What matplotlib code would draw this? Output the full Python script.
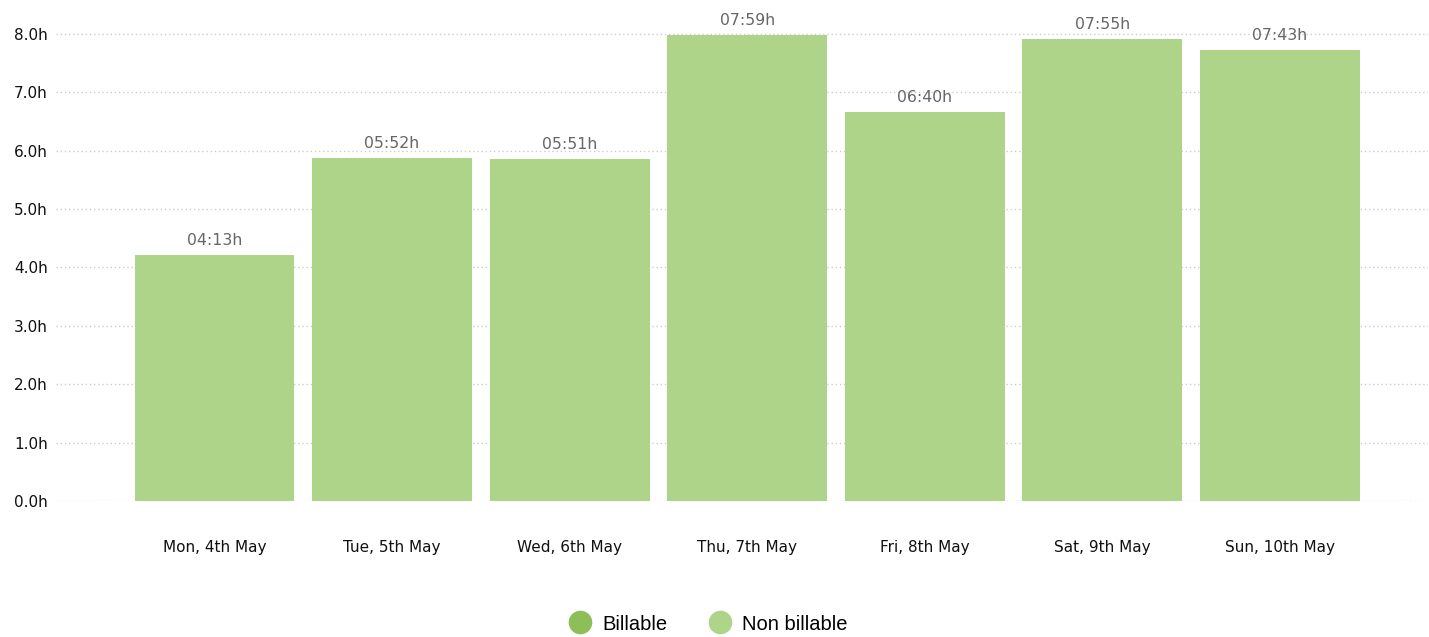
import matplotlib
matplotlib.use('Agg')
import matplotlib.pyplot as plt
from matplotlib.lines import Line2D

days = ['Mon, 4th May', 'Tue, 5th May', 'Wed, 6th May', 'Thu, 7th May',
        'Fri, 8th May', 'Sat, 9th May', 'Sun, 10th May']
labels = ['04:13h', '05:52h', '05:51h', '07:59h', '06:40h', '07:55h', '07:43h']
billable = [0, 0, 0, 0, 0, 0, 0]
non_billable = [4 + 13/60, 5 + 52/60, 5 + 51/60, 7 + 59/60, 6 + 40/60, 7 + 55/60, 7 + 43/60]
yticks = [0, 1, 2, 3, 4, 5, 6, 7, 8]

c_bill = '#8cbf58'
c_non = '#aed48a'

fig = plt.figure(figsize=(14.29, 6.37), dpi=100)
ax = fig.add_axes([56/1429, 1 - 501/637, (1428-56)/1429, 501/637])

x = range(len(days))
ax.bar(x, non_billable, width=0.9, bottom=billable, color=c_non, zorder=2)

for i, v in enumerate(non_billable):
    ax.annotate(labels[i], (i, v), xytext=(0, 5), textcoords='offset points',
                ha='center', va='bottom', fontsize=11.3, color='#666666',
                family='DejaVu Sans', zorder=3)

ax.set_xlim(-0.893, 6.834)
ax.set_ylim(0, 8.58)
ax.set_yticks(yticks)
ax.set_yticklabels(['%.1fh' % t for t in yticks], fontsize=11, color='#111111')
ax.set_xticks(list(x))
ax.set_xticklabels(days, fontsize=11, color='#111111')
ax.tick_params(axis='both', length=0)
ax.tick_params(axis='x', pad=28)
ax.yaxis.set_tick_params(pad=6)
ax.grid(axis='y', color='#cccccc', linestyle=(0, (1, 2)), linewidth=1, zorder=0)
for s in ax.spines.values():
    s.set_visible(False)

handles = [Line2D([], [], marker='o', linestyle='', markersize=16, color=c_bill),
           Line2D([], [], marker='o', linestyle='', markersize=16, color=c_non)]
fig.legend(handles, ['Billable', 'Non billable'], loc='center',
           bbox_to_anchor=(704/1429, 1 - 624/637), ncol=2, frameon=False,
           prop={'family': 'Liberation Sans', 'size': 14.5},
           handletextpad=0.1, columnspacing=1.6, borderpad=0)

fig.savefig('out.png', dpi=100)
